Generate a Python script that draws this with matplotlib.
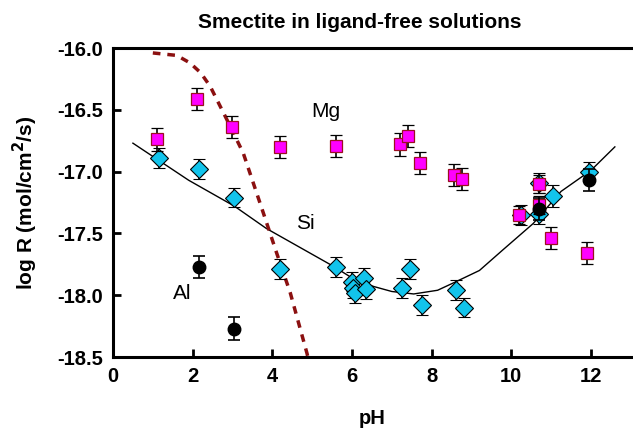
import matplotlib
matplotlib.use("Agg")
import matplotlib.pyplot as plt

plt.rcParams['font.family'] = ['Liberation Sans', 'DejaVu Sans']

# --- data ---
mg_ph = [1.1, 2.1, 3.0, 4.2, 5.6, 7.2, 7.4, 7.7, 8.55, 8.75, 10.2, 10.7, 10.7, 11.0, 11.9]
mg_logr = [-16.74, -16.41, -16.64, -16.80, -16.79, -16.78, -16.71, -16.93, -17.03, -17.06,
           -17.35, -17.10, -17.27, -17.54, -17.66]
mg_err = [0.09, 0.09, 0.09, 0.09, 0.09, 0.09, 0.09, 0.09, 0.09, 0.09, 0.07, 0.07, 0.07, 0.09, 0.09]

si_ph = [1.15, 2.15, 3.05, 4.2, 5.6, 6.0, 6.03, 6.08, 6.3, 6.35, 7.25, 7.45, 7.75, 8.6, 8.8,
         10.25, 10.7, 10.7, 11.05, 11.95]
si_logr = [-16.89, -16.98, -17.21, -17.79, -17.77, -17.89, -17.94, -17.98, -17.86, -17.95,
           -17.94, -17.79, -18.08, -17.96, -18.10, -17.35, -17.09, -17.34, -17.20, -17.00]
si_err = [0.08, 0.08, 0.08, 0.08, 0.08, 0.08, 0.08, 0.08, 0.08, 0.08,
          0.08, 0.08, 0.08, 0.08, 0.08, 0.08, 0.08, 0.08, 0.09, 0.08]

al_ph = [2.15, 3.05, 10.7, 11.95]
al_logr = [-17.77, -18.27, -17.30, -17.07]
al_err = [0.09, 0.09, 0.09, 0.09]

si_fit_ph = [0.5, 1.9, 3.05, 3.85, 5.5, 6.1, 6.55, 7.0, 7.55, 8.15, 8.55, 9.2, 9.8, 10.55,
             11.25, 12.0, 12.6]
si_fit_logr = [-16.77, -17.07, -17.28, -17.46, -17.76, -17.88, -17.93, -17.97, -17.99, -17.96,
               -17.90, -17.80, -17.63, -17.42, -17.16, -16.99, -16.80]

al_fit_ph = [1.0, 1.6, 1.93, 2.2, 2.44, 2.86, 3.27, 3.78, 4.11, 4.45, 4.87, 4.95]
al_fit_logr = [-16.04, -16.06, -16.12, -16.2, -16.31, -16.58, -16.85, -17.34, -17.66, -17.98,
               -18.47, -18.58]

title = "Smectite in ligand-free solutions"
xlabel = "pH"
ylabel = "log R (mol/cm$^\\mathbf{2}$/s)"
xticks = [0, 2, 4, 6, 8, 10, 12]
yticks = [-16.0, -16.5, -17.0, -17.5, -18.0, -18.5]

W, H = 633, 429
fig = plt.figure(figsize=(W / 100, H / 100), dpi=100)
left, right, bottom, top = 113, 633, 357, 48
ax = fig.add_axes([left / W, 1 - bottom / H, (right - left) / W, (bottom - top) / H])

ax.set_xlim(0, (right - left) / 39.83)
ax.set_ylim(-18.5, -16.0)

# curves
ax.plot(si_fit_ph, si_fit_logr, color='black', lw=1.0, zorder=2)
ax.plot(al_fit_ph, al_fit_logr, color='#8b1010', lw=2.5, dashes=(2.2, 2.0), zorder=2)

# points
ax.errorbar(si_ph, si_logr, yerr=si_err, fmt='D', ms=9.5, mfc='#12c4ec', mec='black', mew=0.8,
            ecolor='black', elinewidth=1.2, capsize=4.5, capthick=1.2, zorder=3)
ax.errorbar(mg_ph, mg_logr, yerr=mg_err, fmt='s', ms=8, mfc='#ff00ff', mec='#9b1020', mew=0.9,
            ecolor='black', elinewidth=1.2, capsize=4.5, capthick=1.2, zorder=4)
ax.errorbar(al_ph, al_logr, yerr=al_err, fmt='o', ms=9, mfc='black', mec='black',
            ecolor='black', elinewidth=1.2, capsize=4.5, capthick=1.2, zorder=5)

ax.text(5.35, -16.51, "Mg", fontsize=15, ha='center', va='center')
ax.text(4.82, -17.42, "Si", fontsize=15, ha='center', va='center')
ax.text(1.73, -17.99, "Al", fontsize=15, ha='center', va='center')

for s in ['left', 'bottom', 'top']:
    ax.spines[s].set_linewidth(2.2)
ax.spines['right'].set_visible(False)

ax.set_xticks(xticks)
ax.set_yticks(yticks)
ax.set_xticklabels([str(t) for t in xticks], fontweight='bold', fontsize=14.5)
ax.set_yticklabels([f"{t:.1f}" for t in yticks], fontweight='bold', fontsize=14.5)
ax.tick_params(direction='in', length=6, width=2, pad=7)
ax.tick_params(axis='x', top=False)

fig.text(372 / W, 1 - 418 / H, xlabel, fontweight='bold', fontsize=14.5, ha='center', va='center')
fig.text(25 / W, 1 - 203 / H, ylabel, fontweight='bold', fontsize=15, ha='center', va='center',
         rotation=90)
fig.text(360 / W, 1 - 22 / H, title, fontweight='bold', fontsize=15, ha='center', va='center')

fig.savefig("out.png", dpi=100)
